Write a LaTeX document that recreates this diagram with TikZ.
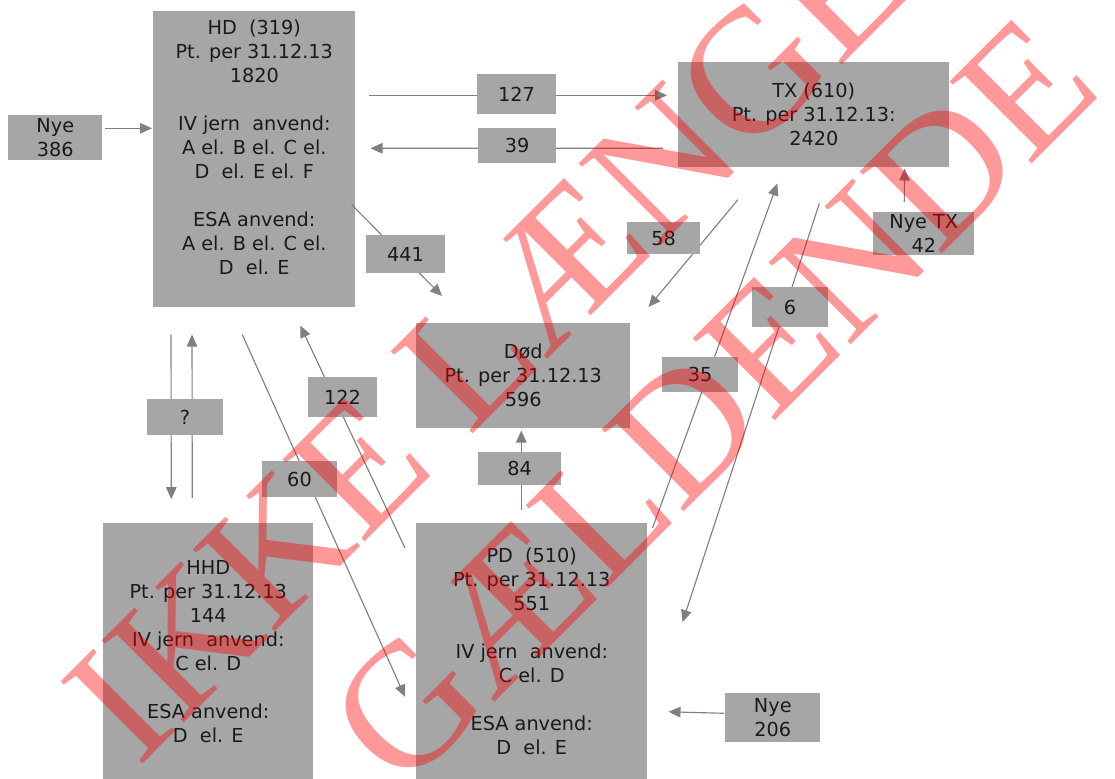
\documentclass[tikz,border=0pt]{standalone}
\usepackage{fontspec}
\newfontfamily\dejavu{DejaVu Sans}
\newfontfamily\stampfont{Liberation Serif}
\usetikzlibrary{arrows.meta}
\definecolor{boxgray}{RGB}{166,166,166}
\definecolor{linegray}{RGB}{128,128,128}
\definecolor{inkgray}{RGB}{26,26,26}
\newcommand{\px}{0.025cm}

\begin{document}
\begin{tikzpicture}[
      x=\px, y=-\px,
      stagebox/.style={
         rectangle,
         fill=boxgray,
         text=inkgray,
         anchor=north west,
         inner sep=0pt,
         align=center,
         font=\dejavu\fontsize{13.7}{17.07}\selectfont},
      numbox/.style={
         rectangle,
         fill=boxgray,
         text=inkgray,
         inner sep=0pt,
         font=\dejavu\fontsize{13.7}{17.07}\selectfont},
      flow/.style={draw=linegray, line width=0.8pt,
         -{Triangle[length=8.5pt,width=7.5pt]}},
      stamp/.style={
         text=red,
         text opacity=0.4,
         inner sep=0pt,
         anchor=base,
         rotate=45,
         font=\stampfont\fontsize{126}{146}\selectfont}
      ]
      \useasboundingbox (0,0) rectangle (1115,778);
      \clip (0,0) rectangle (1115,778);

      % stages
      \node[stagebox, minimum width=202*\px, minimum height=296*\px] (hd) at (153,11)
         {HD~~(319)\\Pt. per 31.12.13\\1820\\~\\IV jern~~anvend:\\A el. B el. C el.\\D~~el. E el. F\\~\\ESA anvend:\\A el. B el. C el.\\D~~el. E\\~};
      \node[stagebox, minimum width=94*\px, minimum height=45*\px] (nye386) at (8,115) {Nye\\386};
      \node[stagebox, minimum width=271*\px, minimum height=105*\px] (tx) at (678,62)
         {TX (610)\\Pt. per 31.12.13:\\2420};
      \node[stagebox, minimum width=214*\px, minimum height=105*\px] (dod) at (416,323)
         {Død\\Pt. per 31.12.13\\596};
      \node[stagebox, minimum width=210*\px, minimum height=257*\px] (hhd) at (103,523)
         {HHD\\Pt. per 31.12.13\\144\\IV jern~~anvend:\\C el. D\\~\\ESA anvend:\\D~~el. E};
      \node[stagebox, minimum width=231*\px, minimum height=257*\px] (pd) at (416,523)
         {PD~~(510)\\Pt. per 31.12.13\\551\\~\\IV jern~~anvend:\\C el. D\\~\\ESA anvend:\\D~~el. E};
      \node[stagebox, minimum width=101*\px, minimum height=43*\px] (nyetx) at (873,212) {Nye TX\\42};
      \node[stagebox, minimum width=95*\px, minimum height=49*\px] (nye206) at (725,693) {Nye\\206};

      % flows
      \draw[flow] ([shift={(2,-9.5)}]nye386.east) -- ([shift={(-1,-31)}]hd.west);
      \draw[flow] ([shift={(13,-64)}]hd.east) -- ([shift={(-11,-19.5)}]tx.west);
      \draw[flow] ([shift={(-15,33.5)}]tx.west) -- ([shift={(15,-11)}]hd.east);
      \draw[flow] ([shift={(-4,-103)}]hd.south east) -- ([shift={(26,-27)}]dod.north west);
      \draw[flow] ([shift={(60,32)}]tx.south west) -- ([shift={(18,-16)}]dod.north east);
      \draw[flow] ([shift={(5,5)}]pd.north east) -- ([shift={(-36.5,16)}]tx.south);
      \draw[flow] ([shift={(5.5,36)}]tx.south) -- ([shift={(35,99)}]pd.north east);
      \draw[flow] ([shift={(-19.5,-10)}]nyetx.north) -- ([shift={(-45,1)}]tx.south east);
      \draw[flow] ([shift={(-1,-4.5)}]nye206.west) -- ([shift={(21,60)}]pd.east);
      \draw[flow] ([shift={(-10.5,-13)}]pd.north) -- ([shift={(-2,2)}]dod.south);
      \draw[flow] ([shift={(18,27)}]hd.south west) -- ([shift={(-37,-24)}]hhd.north);
      \draw[flow] ([shift={(-16,-25)}]hhd.north) -- ([shift={(39,27)}]hd.south west);
      \draw[flow] ([shift={(-12,27)}]hd.south) -- ([shift={(-11,45)}]pd.west);
      \draw[flow] ([shift={(-11,25)}]pd.north west) -- ([shift={(46,18)}]hd.south);

    \foreach \name/\x/\y/\w/\h/\txt in {% name/x/y/width/height/text
      l127/516.5/94/79/40/127,
      l39/517/145.5/78/35/39,
      l441/405.5/254/79/38/441,
      l58/663.5/238/73/32/58,
      l6/790/307/76/40/6,
      l35/700/374.5/76/35/35,
      l122/342.5/397/69/40/122,
      lq/185/417/76/36/?,
      l60/299.5/479/75/36/60,
      l84/519.5/468.5/83/33/84}
       \node[numbox, minimum width=\w*\px, minimum height=\h*\px] (\name) at (\x,\y) {\txt};

      % stamp
      \node[stamp] (stamp1) at (607,300) {IKKE LÆNGERE};
      \node[stamp] (stamp2) at (754,442) {GÆLDENDE};

    \end{tikzpicture}
\end{document}
